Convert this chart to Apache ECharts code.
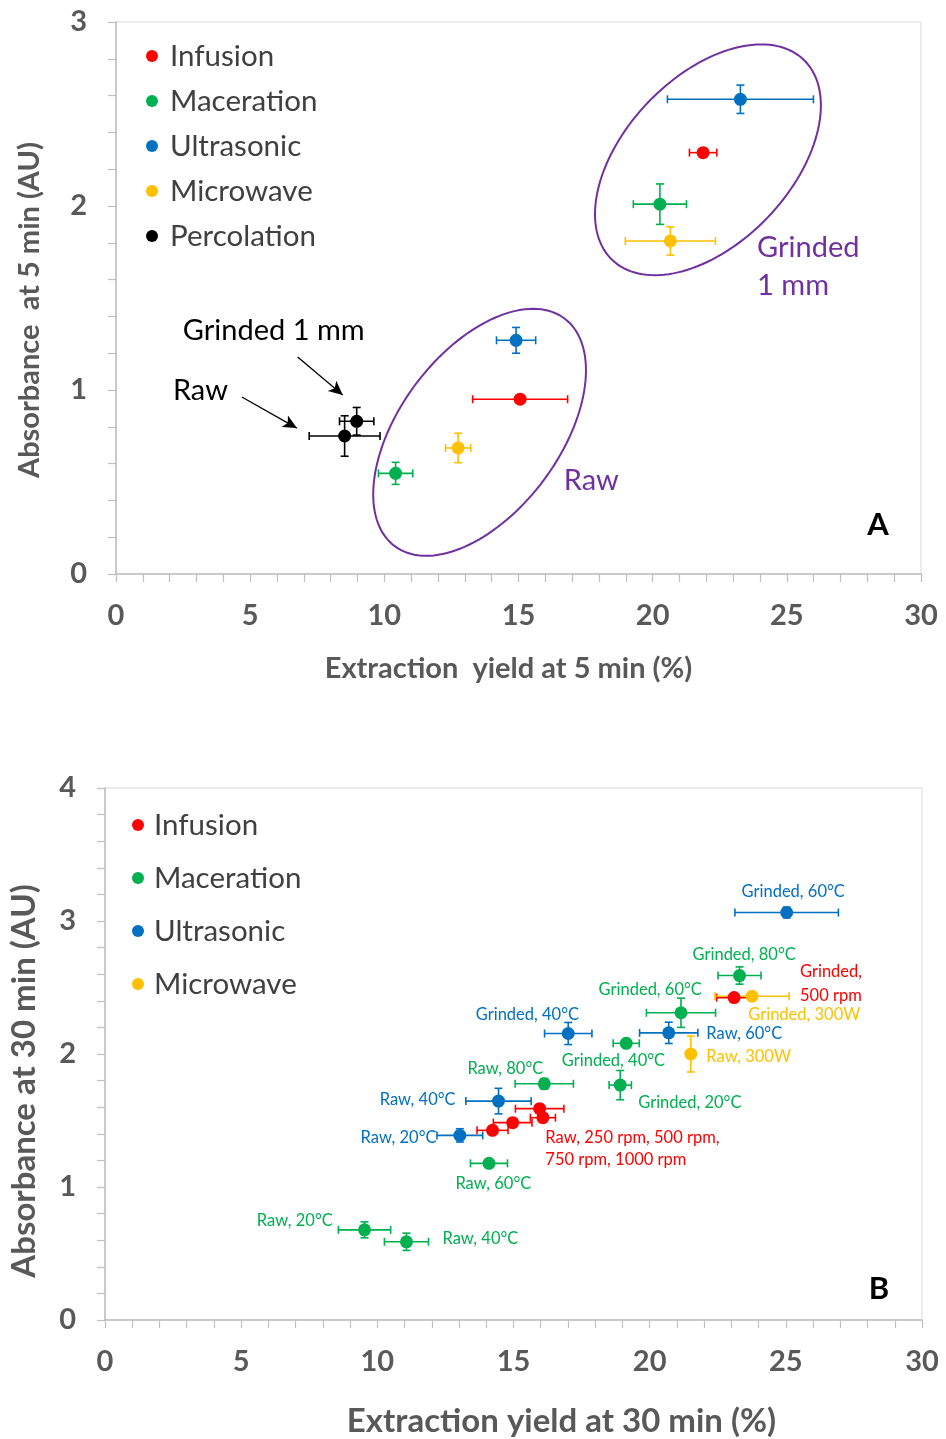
<!DOCTYPE html>
<html><head><meta charset="utf-8">
<script src="https://cdn.jsdelivr.net/npm/echarts@6/dist/echarts.min.js"></script>
<style>html,body{margin:0;padding:0;background:#fff}#c{width:946px;height:1439px}</style>
</head><body><div id="c"></div>
<script>
// ---------- DATA ----------
// each point: [extraction yield %, absorbance AU, x error, y error]
// Panel A (5 min): first point = Raw, second = Grinded 1 mm
const aInfusion    = [[15.06, 0.95, 1.77, 0.02], [21.88, 2.29, 0.51, 0.02]];
const aMaceration  = [[10.42, 0.547, 0.64, 0.06], [20.27, 2.01, 0.99, 0.11]];
const aUltrasonic  = [[14.91, 1.27, 0.73, 0.07], [23.27, 2.58, 2.72, 0.077]];
const aMicrowave   = [[12.75, 0.685, 0.47, 0.08], [20.66, 1.81, 1.68, 0.077]];
const aPercolation = [[8.52, 0.75, 1.32, 0.11], [8.97, 0.83, 0.64, 0.075]];

// Panel B (30 min)
const bInfusion   = [[23.1, 2.424, 0.64, 0.02], [15.96, 1.589, 0.89, 0.03], [16.08, 1.521, 0.46, 0.03], [14.97, 1.484, 0.71, 0.03], [14.23, 1.426, 0.57, 0.03]];
const bMaceration = [[23.3, 2.59, 0.79, 0.065], [21.15, 2.31, 1.27, 0.11], [19.14, 2.08, 0.48, 0.03], [18.92, 1.766, 0.41, 0.11], [16.13, 1.776, 1.07, 0.04], [14.1, 1.178, 0.68, 0.03], [11.07, 0.588, 0.81, 0.065], [9.53, 0.678, 0.96, 0.06]];
const bUltrasonic = [[25.03, 3.064, 1.9, 0.04], [17.01, 2.154, 0.87, 0.083], [20.7, 2.159, 1.07, 0.08], [14.45, 1.646, 1.2, 0.096], [13.03, 1.388, 0.84, 0.05]];
const bMicrowave  = [[23.76, 2.434, 1.36, 0.02], [21.51, 2.0, 0.1, 0.135]];

const namesA = ['Infusion', 'Maceration', 'Ultrasonic', 'Microwave', 'Percolation'];
const namesB = ['Infusion', 'Maceration', 'Ultrasonic', 'Microwave'];
const xTitleA = 'Extraction  yield at 5 min (%)';
const yTitleA = 'Absorbance  at 5 min (AU)';
const xTitleB = 'Extraction yield at 30 min (%)';
const yTitleB = 'Absorbance at 30 min (AU)';

// ---------- STYLE ----------
const COLORS = {Infusion: '#FF0000', Maceration: '#00B050', Ultrasonic: '#0070C0', Microwave: '#FFC000', Percolation: '#000000'};
const PURPLE = '#7030A0';
const FONT = 'Lato, "Open Sans", sans-serif';
const AXC = '#BFBFBF', TXT = '#595959';

function errRender(color) {
  return function (params, api) {
    const x = api.value(0), y = api.value(1), xe = api.value(2), ye = api.value(3);
    const l = api.coord([x - xe, y]), r = api.coord([x + xe, y]);
    const t = api.coord([x, y + ye]), b = api.coord([x, y - ye]);
    const c = 4, st = {stroke: color, lineWidth: 1.6};
    const ch = [];
    const ln = (x1, y1, x2, y2) => ch.push({type: 'line', shape: {x1, y1, x2, y2}, style: st});
    if (xe > 0) { ln(l[0], l[1], r[0], r[1]); ln(l[0], l[1] - c, l[0], l[1] + c); ln(r[0], r[1] - c, r[0], r[1] + c); }
    if (ye > 0) { ln(t[0], t[1], b[0], b[1]); ln(t[0] - c, t[1], t[0] + c, t[1]); ln(b[0] - c, b[1], b[0] + c, b[1]); }
    return {type: 'group', children: ch};
  };
}

function makeSeries(name, pts, idx) {
  return [
    {type: 'custom', name: name + ' error', xAxisIndex: idx, yAxisIndex: idx, data: pts,
     renderItem: errRender(COLORS[name]), z: 2, silent: true,
     encode: {x: 0, y: 1}},
    {type: 'scatter', name: name, xAxisIndex: idx, yAxisIndex: idx,
     data: pts.map(p => [p[0], p[1]]), symbol: 'circle', symbolSize: 13,
     itemStyle: {color: COLORS[name], opacity: 1}, z: 3}
  ];
}

function xAxisCfg(idx, title, gap, size, pad) {
  return {gridIndex: idx, type: 'value', min: 0, max: 30, interval: 5,
    axisLine: {show: true, lineStyle: {color: AXC, width: 1.5}},
    axisTick: {show: true, length: 8, lineStyle: {color: AXC, width: 1.2}},
    minorTick: {show: true, splitNumber: 5, length: 8, lineStyle: {color: AXC, width: 1.2}},
    splitLine: {show: false},
    axisLabel: {color: TXT, fontSize: 29, fontWeight: 'bold', fontFamily: FONT, margin: 27},
    name: title, nameLocation: 'middle', nameGap: gap,
    nameTextStyle: {color: TXT, fontSize: size, fontWeight: 'bold', fontFamily: FONT, padding: pad}};
}
function yAxisCfg(idx, max, title, gap, size, pad) {
  return {gridIndex: idx, type: 'value', min: 0, max: max, interval: 1,
    axisLine: {show: true, lineStyle: {color: AXC, width: 1.5}},
    axisTick: {show: true, length: 8, lineStyle: {color: AXC, width: 1.2}},
    minorTick: {show: true, splitNumber: 5, length: 8, lineStyle: {color: AXC, width: 1.2}},
    splitLine: {show: false},
    axisLabel: {color: TXT, fontSize: 29, fontWeight: 'bold', fontFamily: FONT, margin: 29},
    name: title, nameLocation: 'middle', nameGap: gap,
    nameTextStyle: {color: TXT, fontSize: size, fontWeight: 'bold', fontFamily: FONT, padding: pad}};
}

const series = [];
const dataA = [aInfusion, aMaceration, aUltrasonic, aMicrowave, aPercolation];
const dataB = [bInfusion, bMaceration, bUltrasonic, bMicrowave];
namesA.forEach((n, i) => series.push(...makeSeries(n, dataA[i], 0)));
namesB.forEach((n, i) => series.push(...makeSeries(n, dataB[i], 1)));

// arrows in panel A (data coordinates)
const percA = series.find(s => s.type === 'scatter' && s.name === 'Percolation' && s.xAxisIndex === 0);
percA.markLine = {
  silent: true, symbol: ['none', 'arrow'], symbolSize: [10, 14],
  lineStyle: {color: '#000', width: 1.3, type: 'solid'}, label: {show: false},
  data: [[{coord: [6.77, 1.179]}, {coord: [8.45, 0.973]}], [{coord: [4.69, 0.962]}, {coord: [6.74, 0.793]}]]
};

const legendTextA = {color: '#404040', fontSize: 29.5, fontFamily: FONT, lineHeight: 30, padding: [0, 0, 0, 7]};
const legendTextB = {color: '#404040', fontSize: 29.5, fontFamily: FONT, lineHeight: 30, padding: [0, 0, 0, 5]};

const chart = echarts.init(document.getElementById('c'), null, {renderer: 'canvas'});
chart.setOption({
  animation: false,
  backgroundColor: '#fff',
  grid: [
    {left: 116, top: 22, width: 805, height: 552, show: true, borderColor: '#D9D9D9', borderWidth: 1, backgroundColor: 'transparent'},
    {left: 104, top: 788, width: 818, height: 533, show: true, borderColor: '#D9D9D9', borderWidth: 1, backgroundColor: 'transparent'}
  ],
  xAxis: [xAxisCfg(0, xTitleA, 80, 29, [0, 20, 0, 0]), xAxisCfg(1, xTitleB, 85, 33, [0, 0, 0, 96])],
  yAxis: [yAxisCfg(0, 3, yTitleA, 72, 29, [0, 24, 0, 0]), yAxisCfg(1, 4, yTitleB, 64, 33, [0, 54, 0, 0])],
  legend: [
    {data: namesA.map(n => ({name: n, icon: 'circle'})), orient: 'vertical', left: 141, top: 36,
     itemWidth: 12, itemHeight: 12, itemGap: 15, selectedMode: false, textStyle: legendTextA},
    {data: namesB.map(n => ({name: n, icon: 'circle'})), orient: 'vertical', left: 127, top: 805,
     itemWidth: 12, itemHeight: 12, itemGap: 23, selectedMode: false, textStyle: legendTextB}
  ],
  series: series
});

// ---------- ANNOTATIONS ----------
const annotA = [
  {text: 'Grinded 1 mm', x: 2.49, y: 1.321, align: 'left', color: '#000'},
  {text: 'Raw', x: 2.12, y: 0.995, align: 'left', color: '#000'},
  {text: 'Raw', x: 17.71, y: 0.505, align: 'center', color: PURPLE},
  {text: 'Grinded\n1 mm', x: 23.89, y: 1.668, align: 'left', color: PURPLE, lh: 38},
  {text: 'A', x: 28.4, y: 0.266, align: 'center', color: '#000', size: 31, bold: true}
];
const cB = COLORS;
const annotB = [
  {text: 'Grinded, 60°C', x: 25.27, y: 3.22, align: 'center', color: cB.Ultrasonic},
  {text: 'Grinded, 80°C', x: 23.47, y: 2.747, align: 'center', color: cB.Maceration},
  {text: 'Grinded,\n500 rpm', x: 25.52, y: 2.529, align: 'left', color: cB.Infusion, lh: 24},
  {text: 'Grinded, 300W', x: 23.62, y: 2.296, align: 'left', color: cB.Microwave},
  {text: 'Grinded, 60°C', x: 20.02, y: 2.484, align: 'center', color: cB.Maceration},
  {text: 'Grinded, 40°C', x: 15.51, y: 2.296, align: 'center', color: cB.Ultrasonic},
  {text: 'Raw, 60°C', x: 22.08, y: 2.154, align: 'left', color: cB.Ultrasonic},
  {text: 'Raw, 300W', x: 22.08, y: 1.981, align: 'left', color: cB.Microwave},
  {text: 'Grinded, 40°C', x: 18.67, y: 1.951, align: 'center', color: cB.Maceration},
  {text: 'Raw, 80°C', x: 14.70, y: 1.891, align: 'center', color: cB.Maceration},
  {text: 'Raw, 40°C', x: 11.48, y: 1.659, align: 'center', color: cB.Ultrasonic},
  {text: 'Grinded, 20°C', x: 19.58, y: 1.636, align: 'left', color: cB.Maceration},
  {text: 'Raw, 250 rpm, 500 rpm,\n750 rpm, 1000 rpm', x: 16.17, y: 1.291, align: 'left', color: cB.Infusion, lh: 22},
  {text: 'Raw, 20°C', x: 10.78, y: 1.373, align: 'center', color: cB.Ultrasonic},
  {text: 'Raw, 60°C', x: 14.26, y: 1.028, align: 'center', color: cB.Maceration},
  {text: 'Raw, 20°C', x: 6.97, y: 0.750, align: 'center', color: cB.Maceration},
  {text: 'Raw, 40°C', x: 12.39, y: 0.615, align: 'left', color: cB.Maceration},
  {text: 'B', x: 28.42, y: 0.233, align: 'center', color: '#000', size: 31, bold: true}
];
// ellipses: centre in data coords, semi-axes in px, tilt in screen degrees
const ellipsesA = [
  {cx: 13.55, cy: 0.770, a: 142, b: 80, ang: -53.3},
  {cx: 22.06, cy: 2.251, a: 138.5, b: 83, ang: -46.3}
];

function ellipsePts(c, a, b, angDeg) {
  const th = angDeg * Math.PI / 180, pts = [];
  for (let i = 0; i < 144; i++) {
    const t = i / 144 * 2 * Math.PI;
    pts.push([c[0] + a * Math.cos(t) * Math.cos(th) - b * Math.sin(t) * Math.sin(th),
              c[1] + a * Math.cos(t) * Math.sin(th) + b * Math.sin(t) * Math.cos(th)]);
  }
  return pts;
}

const g = [];
ellipsesA.forEach(e => {
  const c = chart.convertToPixel({gridIndex: 0}, [e.cx, e.cy]);
  g.push({type: 'polygon', shape: {points: ellipsePts(c, e.a, e.b, e.ang)}, silent: true,
          style: {fill: 'none', stroke: PURPLE, lineWidth: 2}, z: 1});
});
function addText(list, gi, defSize) {
  list.forEach(t => {
    const p = chart.convertToPixel({gridIndex: gi}, [t.x, t.y]);
    const size = t.size || defSize;
    g.push({type: 'text', x: p[0], y: p[1], silent: true, z: 10,
      style: {text: t.text, fill: t.color, fontSize: size, fontFamily: FONT,
              fontWeight: t.bold ? 'bold' : 'normal', align: t.align, verticalAlign: 'middle',
              lineHeight: t.lh || Math.round(size * 1.2)}});
  });
}
addText(annotA, 0, 29);
addText(annotB, 1, 16.5);
chart.setOption({graphic: {elements: g}});
</script>
</body></html>
